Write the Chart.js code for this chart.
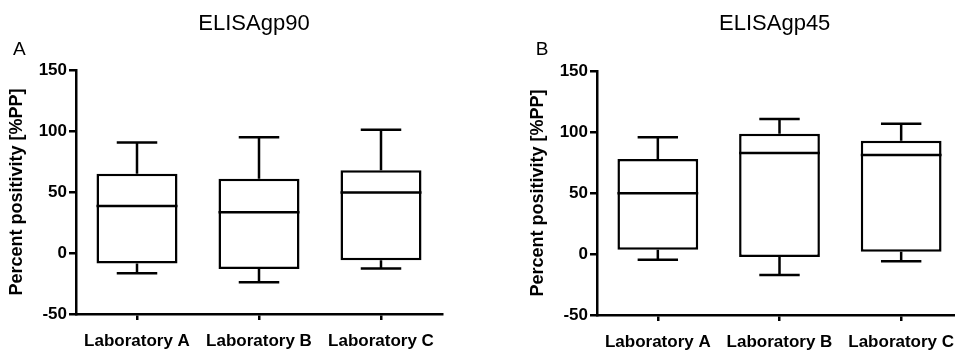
<!DOCTYPE html>
<html>
<head>
<meta charset="utf-8">
<script src="https://cdn.jsdelivr.net/npm/chart.js@4/dist/chart.umd.min.js"></script>
<style>
  html, body { margin: 0; padding: 0; background: #fff; overflow: hidden; width: 955px; height: 359px; }
  canvas { position: absolute; top: 0; }
  #cA { left: 0; }
  #cB { left: 478px; }
</style>
</head>
<body>
<canvas id="cA" width="478" height="359"></canvas>
<canvas id="cB" width="490" height="359"></canvas>
<script>
// ---- data ----
const categories = ['Laboratory A', 'Laboratory B', 'Laboratory C'];
const yTicks = [-50, 0, 50, 100, 150];
const yAxisTitle = 'Percent positivity [%PP]';

const gp90Title = 'ELISAgp90';
const gp90Min    = [-16.6, -24.0, -12.8];
const gp90Q1     = [-8.7, -13.1, -6.0];
const gp90Median = [38.5, 33.4, 49.5];
const gp90Q3     = [65.0, 60.8, 67.8];
const gp90Max    = [90.5, 94.8, 101.0];

const gp45Title = 'ELISAgp45';
const gp45Min    = [-4.7, -17.2, -6.0];
const gp45Q1     = [3.5, -2.5, 1.9];
const gp45Median = [49.7, 82.8, 81.1];
const gp45Q3     = [77.9, 98.6, 92.9];
const gp45Max    = [95.6, 110.7, 106.8];

const FONT = '"Liberation Sans", Arial, Helvetica, sans-serif';
const LW = 2.5;

const whiskerPlugin = {
  id: 'whiskers',
  afterDatasetsDraw(chart, args, opts) {
    const { ctx, scales: { x, y } } = chart;
    const meta = chart.getDatasetMeta(0);
    ctx.save();
    ctx.strokeStyle = '#000';
    ctx.lineWidth = LW;
    ctx.lineCap = 'butt';
    opts.median.forEach((m, i) => {
      const cx = x.getPixelForValue(i);
      const bw = meta.data[i].width;
      const half = bw / 2;
      const cap = bw / 4;
      const pMin = y.getPixelForValue(opts.min[i]);
      const pQ1 = y.getPixelForValue(opts.q1[i]);
      const pMed = y.getPixelForValue(m);
      const pQ3 = y.getPixelForValue(opts.q3[i]);
      const pMax = y.getPixelForValue(opts.max[i]);
      ctx.beginPath();
      ctx.moveTo(cx, pQ3); ctx.lineTo(cx, pMax);
      ctx.moveTo(cx - cap, pMax); ctx.lineTo(cx + cap, pMax);
      ctx.moveTo(cx, pQ1); ctx.lineTo(cx, pMin);
      ctx.moveTo(cx - cap, pMin); ctx.lineTo(cx + cap, pMin);
      ctx.moveTo(cx - half, pMed); ctx.lineTo(cx + half, pMed);
      ctx.stroke();
    });
    ctx.restore();
  }
};

const labelsPlugin = {
  id: 'panelText',
  afterDraw(chart, args, opts) {
    const ctx = chart.ctx;
    ctx.save();
    ctx.fillStyle = '#000';
    ctx.textBaseline = 'alphabetic';
    ctx.font = '22px ' + FONT;
    ctx.textAlign = 'center';
    ctx.fillText(opts.title, opts.titleX, opts.titleY);
    ctx.font = '19px ' + FONT;
    ctx.textAlign = 'left';
    ctx.fillText(opts.letter, opts.letterX, opts.letterY);
    ctx.restore();
  }
};

function makeChart(id, d, layout) {
  const boxes = d.q1.map((v, i) => [v, d.q3[i]]);
  return new Chart(document.getElementById(id), {
    type: 'bar',
    data: {
      labels: categories,
      datasets: [{
        data: boxes,
        backgroundColor: '#fff',
        borderColor: '#000',
        borderWidth: LW,
        borderSkipped: false,
        categoryPercentage: 1,
        barPercentage: 0.664
      }]
    },
    options: {
      responsive: false,
      animation: false,
      devicePixelRatio: 1,
      layout: { padding: layout.padding },
      plugins: {
        legend: { display: false },
        title: { display: false },
        tooltip: { enabled: false },
        whiskers: { min: d.min, q1: d.q1, median: d.median, q3: d.q3, max: d.max },
        panelText: layout.text
      },
      scales: {
        x: {
          type: 'category',
          offset: true,
          grid: { display: true, drawOnChartArea: false, drawTicks: true, tickLength: 6, offset: false, color: '#000', lineWidth: LW },
          border: { display: true, color: '#000', width: LW },
          ticks: { color: '#000', font: { family: FONT, size: 17, weight: 'bold' }, padding: 11, maxRotation: 0, autoSkip: false },
          afterFit(s) { s.height = layout.xHeight; }
        },
        y: {
          min: yTicks[0],
          max: yTicks[yTicks.length - 1],
          afterBuildTicks(s) { s.ticks = yTicks.map(v => ({ value: v })); },
          grid: { display: true, drawOnChartArea: false, drawTicks: true, tickLength: 7, color: '#000', lineWidth: LW },
          border: { display: true, color: '#000', width: LW },
          ticks: { color: '#000', font: { family: FONT, size: 17, weight: 'bold' }, padding: 2 },
          title: { display: true, text: yAxisTitle, color: '#000', font: { family: FONT, size: 18, weight: 'bold' }, padding: { top: 6, bottom: 0 } },
          afterFit(s) { s.width = 76; }
        }
      }
    },
    plugins: [whiskerPlugin, labelsPlugin]
  });
}

makeChart('cA',
  { min: gp90Min, q1: gp90Q1, median: gp90Median, q3: gp90Q3, max: gp90Max },
  { padding: { left: 0, right: 36, top: 70, bottom: 0 }, xHeight: 45,
    text: { title: gp90Title, titleX: 254, titleY: 29.5, letter: 'A', letterX: 13, letterY: 54.5 } });

makeChart('cB',
  { min: gp45Min, q1: gp45Q1, median: gp45Median, q3: gp45Q3, max: gp45Max },
  { padding: { left: 43, right: 6, top: 71, bottom: 0 }, xHeight: 44,
    text: { title: gp45Title, titleX: 296.7, titleY: 29.5, letter: 'B', letterX: 57.7, letterY: 54.5 } });
</script>
</body>
</html>
